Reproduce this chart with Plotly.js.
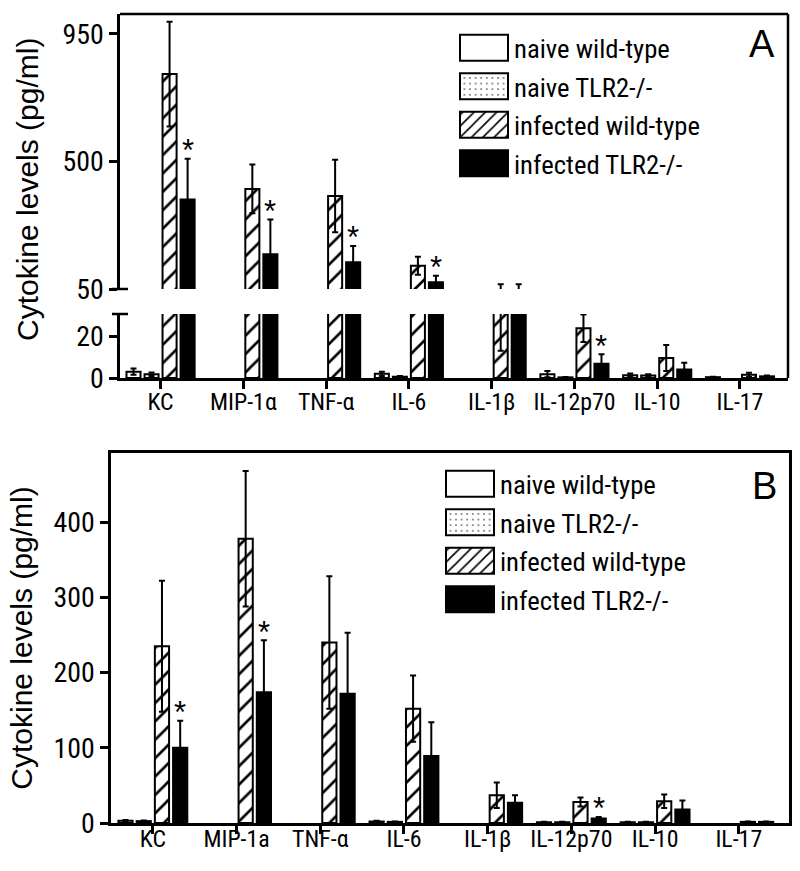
<!DOCTYPE html>
<html><head><meta charset="utf-8">
<script src="https://cdn.plot.ly/plotly-3.0.1.min.js"></script>
<style>html,body{margin:0;padding:0;background:#fff}#chart{width:800px;height:871px}</style>
</head><body><div id="chart"></div>
<script>
// ---------- data ----------
const categoriesA = ['KC', 'MIP-1α', 'TNF-α', 'IL-6', 'IL-1β', 'IL-12p70', 'IL-10', 'IL-17'];
const categoriesB = ['KC', 'MIP-1a', 'TNF-α', 'IL-6', 'IL-1β', 'IL-12p70', 'IL-10', 'IL-17'];
const seriesNames = ['naive wild-type', 'naive TLR2-/-', 'infected wild-type', 'infected TLR2-/-'];

// Panel A (pg/ml)
const naiveWT_A     = [3.0, null, null, 2.0, null, 1.8, 1.3, 0.4];
const naiveWT_A_err = [1.5, null, null, 1.0, null, 1.5, 0.8, 0.2];
const naiveKO_A     = [1.8, null, null, 0.6, null, 0.3, 1.2, null];
const naiveKO_A_err = [0.8, null, null, 0.3, null, 0.2, 0.6, null];
const infWT_A       = [808, 403, 378, 132, 40, 23.7, 9.5, 1.5];
const infWT_A_err   = [185, 86, 128, 32, 27, 6.6, 6.2, 1.0];
const infKO_A       = [366, 173, 144, 74, 40, 6.8, 4.1, 0.8];
const infKO_A_err   = [143, 122, 58, 23, 27, 4.5, 3.2, 0.4];
const sigA = [true, true, true, true, false, true, false, false];

// Panel B (pg/ml)
const naiveWT_B     = [3.0, null, null, 2.0, null, 1.0, 1.0, null];
const naiveWT_B_err = [1.0, null, null, 1.0, null, 0.5, 0.5, null];
const naiveKO_B     = [2.5, null, null, 1.5, null, 1.0, 1.0, null];
const naiveKO_B_err = [0.8, null, null, 0.5, null, 0.5, 0.5, null];
const infWT_B       = [235, 378, 240, 152, 37, 28, 29, 1.5];
const infWT_B_err   = [87, 90, 88, 44, 17, 6, 9, 0.5];
const infKO_B       = [100, 174, 172, 89, 27, 6, 18, 1.5];
const infKO_B_err   = [36, 69, 81, 45, 10, 2, 12, 0.5];
const sigB = [true, true, false, false, false, true, false, false];

const ticksA_low = [0, 20];
const ticksA_up = [50, 500, 950];
const ticksB = [0, 100, 200, 300, 400];

// ---------- fonts ----------
const SAMPLE = 'naive wild-type IL-12p70 0123456789';
function textWidth(font) {
  const ctx = document.createElement('canvas').getContext('2d');
  ctx.font = font; return ctx.measureText(SAMPLE).width;
}
function fontAvailable(name) {
  const w1 = textWidth('40px monospace'), w2 = textWidth('40px serif');
  const w3 = textWidth('40px "' + name + '", monospace'), w4 = textWidth('40px "' + name + '", serif');
  return (w3 !== w1) || (w4 !== w2);
}
const FR = '"Liberation Sans", Arial, sans-serif';
const narrowCandidates = ['Liberation Sans Narrow', 'Arial Narrow', 'Noto Sans Condensed',
                          'DejaVu Sans Condensed', 'Roboto Condensed', 'Open Sans Condensed'];
let FN = FR, k = 1.0;
for (const c of narrowCandidates) {
  if (fontAvailable(c)) {
    const ratio = textWidth('40px ' + FR) / textWidth('40px "' + c + '"');
    if (ratio > 1.05) { FN = '"' + c + '", ' + FR; k = Math.min(ratio, 1.3); break; }
  }
}
const yTickSize = 24.5 * k, xTickSize = 21 * k, legSize = 23.5 * k;
const legGap = Math.max(0, 38.5 - (legSize * 1.3 + 3));

// ---------- geometry ----------
const W = 800, H = 871;
const py = p => 1 - p / H;
const domA_x = [120 / W, 788 / W];
const domA_low = [py(378), py(314)];
const domA_up = [py(289), py(14)];
const domB_x = [111 / W, 789 / W];
const domB_y = [py(823), py(453)];
const bargap = 0.129, bargroupgap = 0.22;
const slot = (1 - bargap) / 4;
const koOffset = 1.5 * slot;

const styles = [
  {color: '#ffffff', line: {color: '#000', width: 2}},
  {color: '#ffffff', line: {color: '#000', width: 2},
   pattern: {shape: '.', fgcolor: '#000', bgcolor: '#fff', size: 7, solidity: 0.06}},
  {color: '#ffffff', line: {color: '#000', width: 2},
   pattern: {shape: '/', fgcolor: '#000', bgcolor: '#fff', size: 13, solidity: 0.2}},
  {color: '#000000', line: {color: '#000', width: 2}}
];

function bar(i, cats, y, err, xa, ya, legend, show, group) {
  return {
    type: 'bar', name: seriesNames[i], x: cats, y: y,
    xaxis: xa, yaxis: ya, legend: legend, showlegend: show, legendgroup: group + i,
    marker: styles[i],
    error_y: {type: 'data', array: err, symmetric: true, color: '#000', thickness: 2, width: 3},
    hoverinfo: 'skip'
  };
}

const dataA = [[naiveWT_A, naiveWT_A_err], [naiveKO_A, naiveKO_A_err], [infWT_A, infWT_A_err], [infKO_A, infKO_A_err]];
const dataB = [[naiveWT_B, naiveWT_B_err], [naiveKO_B, naiveKO_B_err], [infWT_B, infWT_B_err], [infKO_B, infKO_B_err]];

const traces = [];
dataA.forEach((d, i) => traces.push(bar(i, categoriesA, d[0], d[1], 'x', 'y', 'legend', false, 'a')));
dataA.forEach((d, i) => traces.push(bar(i, categoriesA, d[0], d[1], 'x', 'y2', 'legend', true, 'a')));
dataB.forEach((d, i) => traces.push(bar(i, categoriesB, d[0], d[1], 'x2', 'y3', 'legend2', true, 'b')));

// ---------- annotations ----------
const ann = [];
const starFont = {family: FR, size: 31, color: '#000'};
sigA.forEach((s, i) => {
  if (!s) return;
  const top = infKO_A[i] + infKO_A_err[i];
  ann.push({text: '*', x: i + koOffset, y: top, xref: 'x', yref: top >= 50 ? 'y2' : 'y',
            showarrow: false, xanchor: 'center', yanchor: 'middle', yshift: 8, font: starFont});
});
sigB.forEach((s, i) => {
  if (!s) return;
  const top = infKO_B[i] + infKO_B_err[i];
  ann.push({text: '*', x: i + koOffset, y: top, xref: 'x2', yref: 'y3',
            showarrow: false, xanchor: 'center', yanchor: 'middle', yshift: 8, font: starFont});
});
ann.push({text: 'A', x: 762 / W, y: py(44), xref: 'paper', yref: 'paper', showarrow: false,
          xanchor: 'center', yanchor: 'middle', font: {family: FR, size: 38, color: '#000'}});
ann.push({text: 'B', x: 764 / W, y: py(486), xref: 'paper', yref: 'paper', showarrow: false,
          xanchor: 'center', yanchor: 'middle', font: {family: FR, size: 38, color: '#000'}});
ann.push({text: 'Cytokine levels (pg/ml)', x: 28 / W, y: py(190), xref: 'paper', yref: 'paper',
          showarrow: false, textangle: -90, xanchor: 'center', yanchor: 'middle',
          font: {family: FR, size: 30, color: '#000'}});

// ---------- shapes (frame & axis-break marks) ----------
const LW = 2.5;
const shapes = [
  {type: 'line', xref: 'x domain', yref: 'paper', x0: 0, x1: 1, y0: domA_up[1], y1: domA_up[1], line: {color: '#000', width: LW}},
  {type: 'line', xref: 'x domain', yref: 'paper', x0: 1, x1: 1, y0: domA_low[0], y1: domA_up[1], line: {color: '#000', width: LW}},
  {type: 'line', xref: 'paper', yref: 'y domain', x0: 112 / W, x1: 128 / W, y0: 1, y1: 1, line: {color: '#000', width: LW}},
  {type: 'line', xref: 'paper', yref: 'y2 domain', x0: 112 / W, x1: 128 / W, y0: 0, y1: 0, line: {color: '#000', width: LW}}
];

const axCommon = {
  showgrid: false, zeroline: false, showline: true, linecolor: '#000', linewidth: LW,
  ticks: 'outside', ticklen: 8, tickwidth: LW, tickcolor: '#000', fixedrange: true
};

const layout = {
  width: W, height: H, margin: {l: 0, r: 0, t: 0, b: 0},
  paper_bgcolor: '#fff', plot_bgcolor: '#fff',
  barmode: 'group', bargap: bargap, bargroupgap: bargroupgap,
  font: {family: FR, color: '#000'},
  xaxis: Object.assign({}, axCommon, {domain: domA_x, anchor: 'y', type: 'category', range: [-0.49, 7.58],
          tickfont: {family: FN, size: xTickSize}, ticklabelstandoff: -7}),
  yaxis: Object.assign({}, axCommon, {domain: domA_low, anchor: 'x', range: [0, 30.5],
          tickmode: 'array', tickvals: ticksA_low, tickfont: {family: FN, size: yTickSize}}),
  yaxis2: Object.assign({}, axCommon, {domain: domA_up, anchor: 'x', range: [50, 1020],
          tickmode: 'array', tickvals: ticksA_up, tickfont: {family: FN, size: yTickSize}}),
  xaxis2: Object.assign({}, axCommon, {domain: domB_x, anchor: 'y3', type: 'category', range: [-0.5, 7.6],
          mirror: true, tickfont: {family: FN, size: xTickSize}, ticklabelstandoff: -15}),
  yaxis3: Object.assign({}, axCommon, {domain: domB_y, anchor: 'x2', range: [0, 492], mirror: true,
          tickmode: 'array', tickvals: ticksB, tickfont: {family: FN, size: yTickSize},
          title: {text: 'Cytokine levels (pg/ml)', font: {family: FR, size: 30}, standoff: 12}}),
  legend: {x: 454 / W, y: py(24), xanchor: 'left', yanchor: 'top', bgcolor: 'rgba(0,0,0,0)',
           borderwidth: 0, font: {family: FN, size: legSize}, itemwidth: 50, tracegroupgap: legGap, traceorder: 'grouped'},
  legend2: {x: 440 / W, y: py(460), xanchor: 'left', yanchor: 'top', bgcolor: 'rgba(0,0,0,0)',
           borderwidth: 0, font: {family: FN, size: legSize}, itemwidth: 50, tracegroupgap: legGap, traceorder: 'grouped'},
  annotations: ann, shapes: shapes, showlegend: true
};

Plotly.newPlot('chart', traces, layout, {displayModeBar: false, responsive: false}).then(gd => {
  gd.querySelectorAll('.legendpoints path').forEach(p => {
    p.setAttribute('d', 'M24,13H-24V-13H24Z');
  });
});
</script>
</body></html>
